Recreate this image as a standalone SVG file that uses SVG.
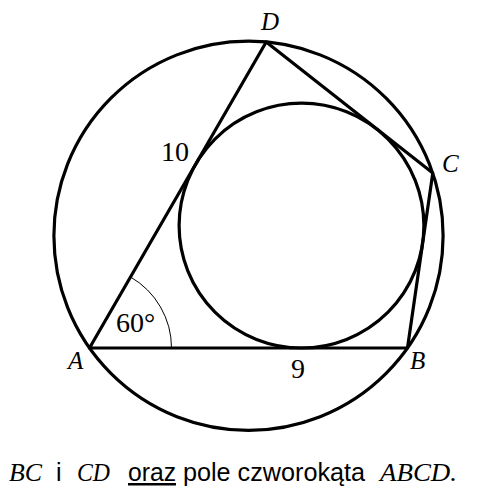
<svg xmlns="http://www.w3.org/2000/svg" width="488" height="495" viewBox="0 0 488 495">
<style>
.thick{fill:none;stroke:#000;stroke-width:3.2;stroke-linejoin:round}
.thin{fill:none;stroke:#000;stroke-width:1}
.lbl{font-family:"Liberation Serif","DejaVu Serif",serif;font-style:italic;font-size:25px;fill:#000}
.num{font-family:"Liberation Serif","DejaVu Serif",serif;font-size:28px;fill:#000}
.sans{font-family:"Liberation Sans",Arial,sans-serif;font-size:25px;fill:#000}
</style>
<rect width="488" height="495" fill="#fff"/>
<g id="figure">
<circle class="thick" cx="248.5" cy="235.8" r="194.6"/>
<circle class="thick" cx="301.5" cy="225.6" r="122.4"/>
<polygon class="thick" points="89.5,348 407.5,348 432.8,173.1 266.2,42"/>
<path class="thin" d="M171.5,348 A82,82 0 0 0 130.5,277"/>
</g>
<g id="labels">
<text class="lbl" x="261" y="30">D</text>
<text class="lbl" x="442" y="172">C</text>
<text class="lbl" x="68" y="369">A</text>
<text class="lbl" x="410" y="369">B</text>
<text class="num" x="161" y="161">10</text>
<text class="num" x="116" y="332">60°</text>
<text class="num" x="291" y="378">9</text>
</g>
<g id="caption">
<text class="lbl" x="9" y="481" textLength="33" lengthAdjust="spacingAndGlyphs">BC</text>
<text class="sans" x="56" y="481">i</text>
<text class="lbl" x="77" y="481" textLength="33" lengthAdjust="spacingAndGlyphs">CD</text>
<text class="sans" x="128" y="481" text-decoration="underline" textLength="48" lengthAdjust="spacingAndGlyphs">oraz</text>
<text class="sans" x="183" y="481" textLength="182" lengthAdjust="spacingAndGlyphs">pole czworokąta</text>
<text class="lbl" x="380" y="481" textLength="77" lengthAdjust="spacingAndGlyphs">ABCD.</text>
</g>
</svg>
